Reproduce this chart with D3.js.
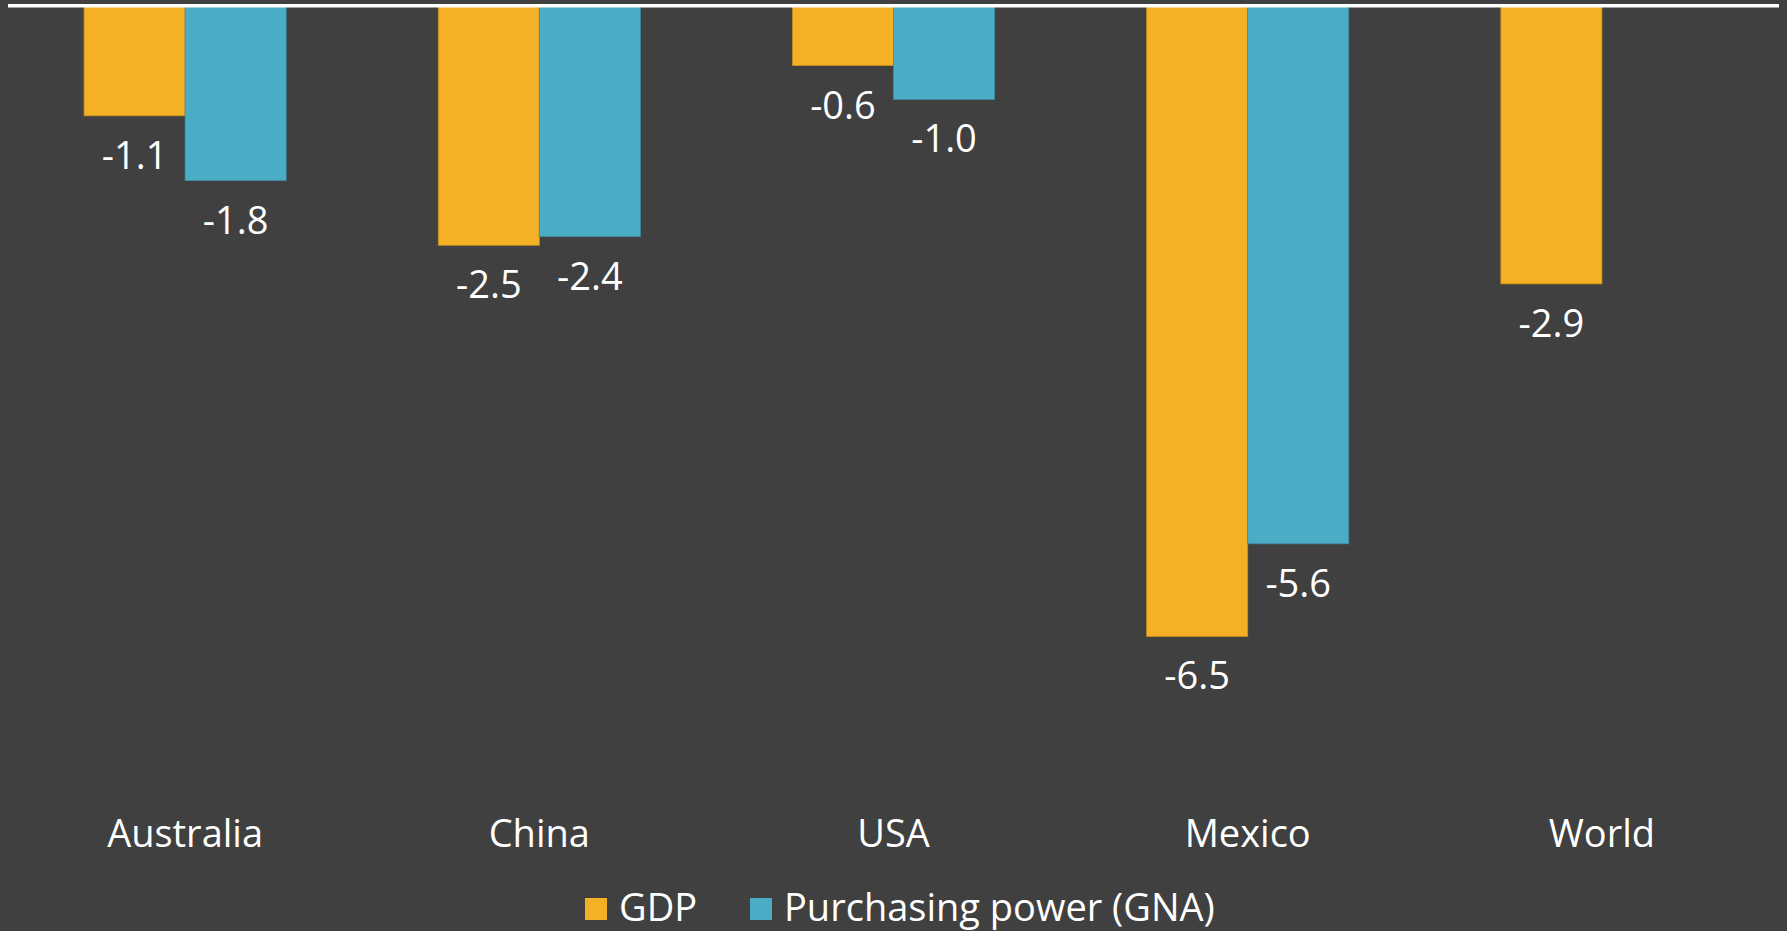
<!DOCTYPE html>
<html>
<head>
<meta charset="utf-8">
<script src="https://cdn.jsdelivr.net/npm/d3@7"></script>
<style>
  html, body { margin: 0; padding: 0; background: #404040; overflow: hidden; }
  svg { display: block; }
  text { font-family: "Open Sans", "Noto Sans", sans-serif; fill: #ffffff; }
</style>
</head>
<body>
<svg id="chart" width="1787" height="931"></svg>
<script>
const categories = ["Australia", "China", "USA", "Mexico", "World"];
const seriesNames = ["GDP", "Purchasing power (GNA)"];
const gdpValues = [-1.14, -2.48, -0.62, -6.53, -2.88];
const gnaValues = [-1.81, -2.39, -0.97, -5.57, null];
const seriesColors = ["#F4B125", "#4BACC6"];
const seriesStroke = ["#C8911E", "#3E8FA5"];

const W = 1787, H = 931;
const svg = d3.select("#chart");
svg.append("rect").attr("width", W).attr("height", H).attr("fill", "#404040");

const x0 = d3.scaleBand().domain(categories).range([8, 1779]).paddingInner(0).paddingOuter(0);
const x1 = d3.scaleBand().domain(seriesNames).range([0, x0.bandwidth()]).paddingInner(0).paddingOuter(0.753);
const zeroY = 5.7;
const y = d3.scaleLinear().domain([0, -7]).range([zeroY, zeroY + 7 * 96.6]);

const seriesValues = [gdpValues, gnaValues];
const data = [];
categories.forEach((c, i) => {
  seriesNames.forEach((s, j) => {
    const v = seriesValues[j][i];
    if (v !== null && v !== undefined) data.push({ cat: c, series: s, idx: j, value: v });
  });
});

const g = svg.append("g");
g.selectAll("rect.bar").data(data).enter().append("rect")
  .attr("class", "bar")
  .attr("x", d => x0(d.cat) + x1(d.series))
  .attr("y", d => y(0))
  .attr("width", x1.bandwidth())
  .attr("height", d => y(d.value) - y(0))
  .attr("fill", d => seriesColors[d.idx])
  .attr("stroke", d => seriesStroke[d.idx])
  .attr("stroke-width", 0.8);

g.selectAll("text.val").data(data).enter().append("text")
  .attr("class", "val")
  .attr("x", d => x0(d.cat) + x1(d.series) + x1.bandwidth() / 2)
  .attr("y", d => y(d.value) + 53)
  .attr("text-anchor", "middle")
  .attr("font-size", 38)
  .text(d => d.value.toFixed(1));

// zero line
svg.append("line")
  .attr("x1", 8).attr("x2", 1779)
  .attr("y1", y(0)).attr("y2", y(0))
  .attr("stroke", "#ffffff").attr("stroke-width", 3.4);

// category labels via axis
const xAxis = d3.axisBottom(x0).tickSize(0).tickPadding(0);
const axG = svg.append("g").attr("transform", "translate(0,820)").call(xAxis);
axG.select(".domain").remove();
axG.selectAll("text")
  .attr("font-size", 38)
  .attr("dy", 0)
  .attr("y", 27)
  .style("font-family", "'Open Sans', sans-serif")
  .attr("fill", "#ffffff");

// legend
const legendItems = [
  { name: seriesNames[0], color: seriesColors[0], x: 585, tx: 619 },
  { name: seriesNames[1], color: seriesColors[1], x: 750, tx: 784 }
];
const lg = svg.append("g");
legendItems.forEach(it => {
  lg.append("rect").attr("x", it.x).attr("y", 898).attr("width", 22).attr("height", 22).attr("fill", it.color);
  lg.append("text").attr("x", it.tx).attr("y", 921).attr("font-size", 38).text(it.name);
});
</script>
</body>
</html>
